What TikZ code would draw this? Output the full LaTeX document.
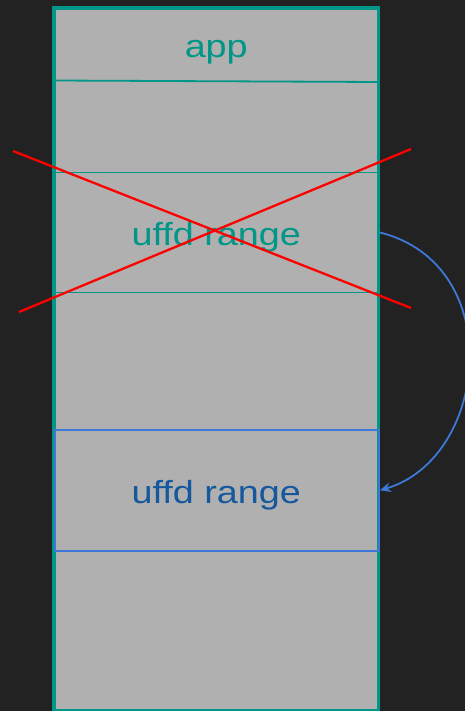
\documentclass[tikz,border=0pt]{standalone}
\usepackage{fontspec}
\setmainfont{Liberation Sans}
\usetikzlibrary{arrows.meta}
\definecolor{bgdark}{HTML}{222222}
\definecolor{memgray}{HTML}{B0B0B0}
\definecolor{tealc}{HTML}{009688}
\definecolor{newblue}{HTML}{3C78D8}
\definecolor{newtext}{HTML}{15589E}
\definecolor{crossred}{HTML}{FF0000}
\tikzset{
  band/.style={draw=tealc, line width=1.8pt, inner sep=0pt, outer sep=0pt,
    minimum width=324.5pt},
  newband/.style={draw=newblue, line width=1.9pt, inner sep=0pt, outer sep=0pt},
  lbl/.style={anchor=base, inner sep=0pt,
    font=\fontsize{32}{38}\selectfont},
  cross/.style={draw=crossred, line width=2.3pt},
  move/.style={draw=newblue, line width=1.8pt,
    -{Stealth[length=11pt,width=10pt,inset=4pt]}}
}
\begin{document}
\begin{tikzpicture}[x=1pt,y=-1pt]
  % canvas
  \fill[bgdark] (0,0) rectangle (465,711);
  \useasboundingbox (0,0) rectangle (465,711);

  % address space column
  \fill[memgray] (54,8) rectangle (378.5,711);

  % boundary under the app region
  \coordinate (appL) at (54,80.5);
  \coordinate (appR) at (378.5,82);
  \draw[tealc, line width=1.8pt] (appL) -- (appR);

  % old registered range
  \node[band, minimum height=120pt] (oldrng) at (216.25,232.5) {};

  % outer frame of the address space
  \draw[tealc, line width=3.5pt] (378.5,711) -- (378.5,8) -- (54,8) -- (54,711);
  \draw[tealc, line width=2pt] (54,710) -- (378.5,710);

  % new range
  \node[newband, minimum width=324pt, minimum height=120.5pt] (newrng) at (217,490.3) {};

  % labels
  \node[lbl, text=tealc] (applbl) at (216.25,58) {\scalebox{1.18}[1]{app}};
  \node[lbl, text=tealc] (oldlbl) at (216.25,245) {\scalebox{1.18}[1]{uffd range}};
  \node[lbl, text=newtext] (newlbl) at (216.25,503) {\scalebox{1.18}[1]{uffd range}};

  % the old range is crossed out
  \coordinate (xa1) at (13,151);
  \coordinate (xa2) at (411,308);
  \coordinate (xb1) at (19,312);
  \coordinate (xb2) at (411,149);
  \draw[cross] (xa1) -- (xa2);
  \draw[cross] (xb1) -- (xb2);

  % remap arrow
  \draw[move] ([xshift=1.5pt]oldrng.east) .. controls +(128,32) and +(109,-32) .. ([xshift=1pt]newrng.east);
\end{tikzpicture}
\end{document}
